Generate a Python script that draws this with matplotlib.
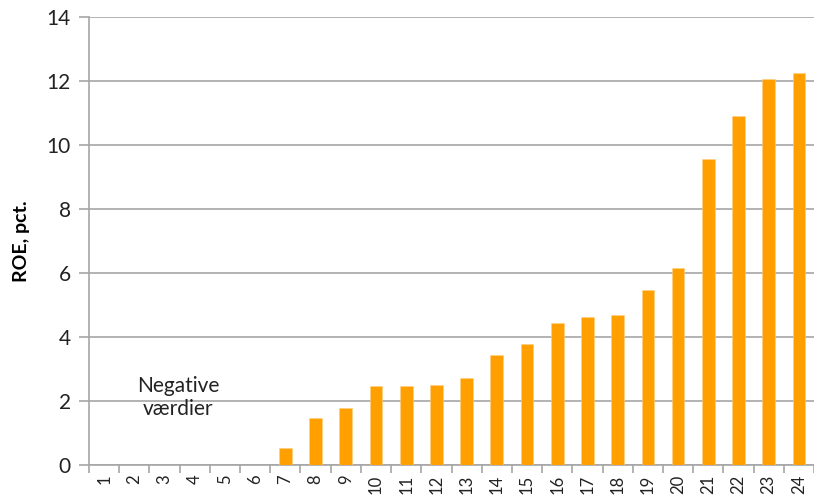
import numpy as np
import matplotlib
matplotlib.use("Agg")
import matplotlib.pyplot as plt
from matplotlib.ticker import FixedLocator

categories = [str(i) for i in range(1, 25)]
roe = [0, 0, 0, 0, 0, 0, 0.53, 1.48, 1.77, 2.46, 2.46, 2.50, 2.72, 3.43, 3.78,
       4.43, 4.64, 4.68, 5.46, 6.16, 9.56, 10.92, 12.06, 12.25]
yticks = [0, 2, 4, 6, 8, 10, 12, 14]

BAR = "#FFA000"
GRID = "#A6A6A6"

plt.rcParams["font.family"] = ["Lato", "DejaVu Sans"]

fig = plt.figure(figsize=(8.14, 4.98), dpi=100)
ax = fig.add_axes([89 / 814, 33 / 498, 725 / 814, 448 / 498])

x = np.arange(len(categories))
ax.bar(x, roe, width=0.42, color=BAR, edgecolor="#FFD080", linewidth=0.4, zorder=3)

ax.set_xlim(-0.5, len(categories) - 0.5)
ax.set_ylim(0, 14)
ax.set_yticks(yticks)
ax.set_yticklabels([str(v) for v in yticks], fontsize=15, color="#222222")
ax.yaxis.grid(True, color=GRID, linewidth=1.2, zorder=0)
ax.tick_params(axis="y", length=7, width=1.2, color=GRID, pad=6)

ax.set_xticks(x)
ax.set_xticklabels(categories, rotation=90, fontsize=12, color="#222222")
ax.tick_params(axis="x", which="major", length=0, pad=7)
ax.xaxis.set_minor_locator(FixedLocator(np.arange(-0.5, len(categories), 1.0)))
ax.tick_params(axis="x", which="minor", length=6, width=1.2, color=GRID)

for s in ["top", "right"]:
    ax.spines[s].set_visible(False)
for s in ["left", "bottom"]:
    ax.spines[s].set_color(GRID)
    ax.spines[s].set_linewidth(1.2)

ax.set_ylabel("ROE, pct.", fontsize=14, fontweight="bold", labelpad=12)

ax.text(2.45, 2.1, "Negative\nværdier", ha="center", va="center",
        fontsize=15, color="#222222", linespacing=1.2)

fig.savefig("out.png", dpi=100)
